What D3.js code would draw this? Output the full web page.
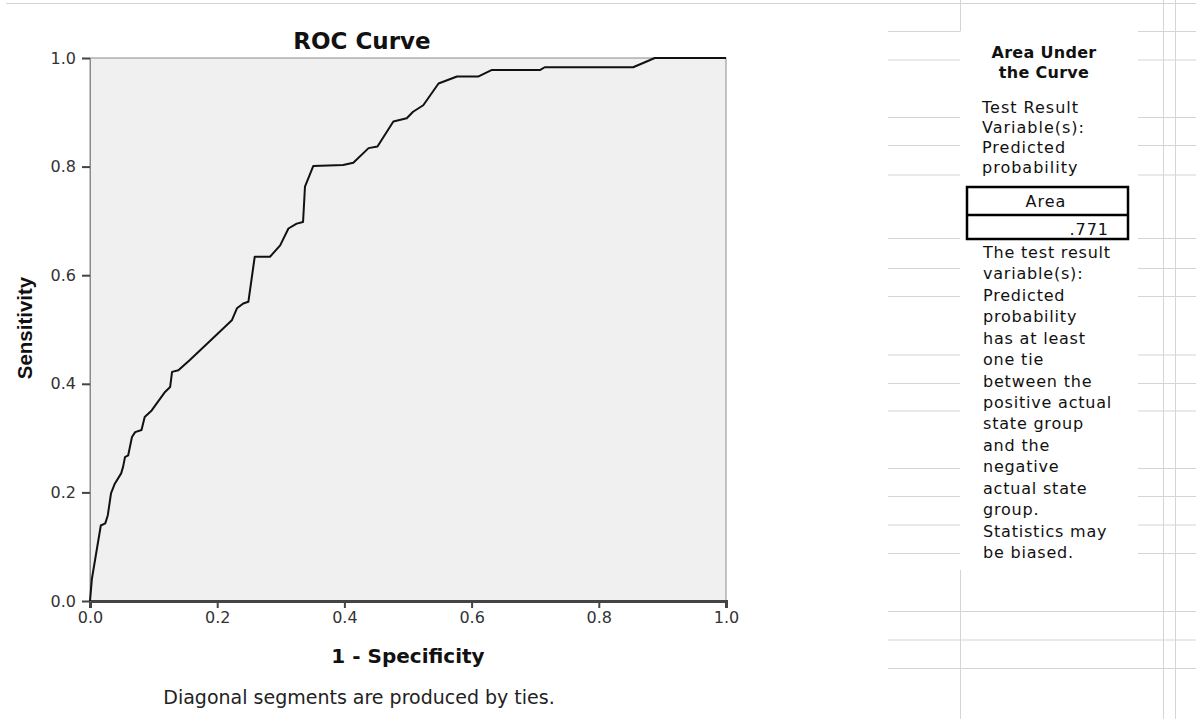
<!DOCTYPE html>
<html>
<head>
<meta charset="utf-8">
<script src="https://cdn.jsdelivr.net/npm/d3@7"></script>
<style>
  body { margin: 0; background: #fff; }
  svg { display: block; }
  .tick text { font-family: "DejaVu Sans", sans-serif; font-size: 16px; fill: #333; }
</style>
</head>
<body>
<script>
// ROC points (1 - specificity, sensitivity)
const fpr = [0.000, 0.003, 0.017, 0.024, 0.028, 0.033, 0.039, 0.049, 0.052, 0.055,
             0.060, 0.066, 0.071, 0.081, 0.086, 0.097, 0.118, 0.126, 0.129, 0.139,
             0.157, 0.204, 0.223, 0.231, 0.241, 0.249, 0.259, 0.283, 0.299, 0.312,
             0.325, 0.335, 0.338, 0.351, 0.398, 0.414, 0.438, 0.452, 0.477, 0.498,
             0.508, 0.524, 0.548, 0.577, 0.611, 0.632, 0.708, 0.715, 0.854, 0.878,
             0.888, 1.000];
const tpr = [0.000, 0.041, 0.139, 0.143, 0.158, 0.198, 0.216, 0.235, 0.247, 0.265,
             0.268, 0.302, 0.311, 0.315, 0.339, 0.351, 0.385, 0.394, 0.422, 0.425,
             0.444, 0.496, 0.517, 0.539, 0.548, 0.551, 0.634, 0.634, 0.655, 0.686,
             0.695, 0.698, 0.763, 0.801, 0.803, 0.807, 0.834, 0.837, 0.883, 0.889,
             0.901, 0.913, 0.953, 0.966, 0.966, 0.978, 0.978, 0.983, 0.983, 0.995,
             1.000, 1.000];
const xTicks = [0, 0.2, 0.4, 0.6, 0.8, 1.0];
const yTicks = [0, 0.2, 0.4, 0.6, 0.8, 1.0];
const aucValue = ".771";
const tableTitle = ["Area Under", "the Curve"];
const variableLines = ["Test Result", "Variable(s):", "Predicted", "probability"];
const noteLines = ["The test result", "variable(s):", "Predicted", "probability",
                   "has at least", "one tie", "between the", "positive actual",
                   "state group", "and the", "negative", "actual state", "group.",
                   "Statistics may", "be biased."];

const W = 1196, H = 719;
const plotL = 90, plotR = 726, plotT = 58, plotB = 601;

const svg = d3.select("body").append("svg")
    .attr("width", W)
    .attr("height", H);

svg.append("rect").attr("width", W).attr("height", H).attr("fill", "#fff");

// spreadsheet lines behind the pivot table
const grid = svg.append("g").attr("stroke", "#d4d4d4").attr("stroke-width", 1);
grid.append("line").attr("x1", 6).attr("x2", W).attr("y1", 3.5).attr("y2", 3.5);
const splitRows = [31.5, 60, 117.5, 145.5, 175, 238.5, 268.5, 296.5, 355, 383.5, 411, 468.5, 496.5, 525, 553.5];
splitRows.forEach(function (y) {
    grid.append("line").attr("x1", 888).attr("x2", 960).attr("y1", y).attr("y2", y);
    grid.append("line").attr("x1", 1138).attr("x2", W).attr("y1", y).attr("y2", y);
});
[611.5, 640, 668.5].forEach(function (y) {
    grid.append("line").attr("x1", 888).attr("x2", W).attr("y1", y).attr("y2", y);
});
grid.append("line").attr("x1", 960.5).attr("x2", 960.5).attr("y1", 0).attr("y2", 31.5);
grid.append("line").attr("x1", 960.5).attr("x2", 960.5).attr("y1", 570).attr("y2", H);
grid.append("line").attr("x1", 1163.5).attr("x2", 1163.5).attr("y1", 0).attr("y2", H);
grid.append("line").attr("x1", 1175.5).attr("x2", 1175.5).attr("y1", 0).attr("y2", H);

// chart
const x = d3.scaleLinear().domain([0, 1]).range([plotL, plotR]);
const y = d3.scaleLinear().domain([0, 1]).range([plotB, plotT]);

svg.append("rect")
    .attr("x", plotL).attr("y", plotT)
    .attr("width", plotR - plotL).attr("height", plotB - plotT)
    .attr("fill", "#f0f0f0")
    .attr("stroke", "#8a8a8a")
    .attr("stroke-width", 1);

const xAxis = svg.append("g")
    .attr("transform", "translate(0," + plotB + ")")
    .call(d3.axisBottom(x).tickValues(xTicks).tickFormat(d3.format(".1f")).tickSize(7).tickPadding(4));
xAxis.select(".domain").attr("stroke", "#444").attr("stroke-width", 3);
xAxis.selectAll(".tick line").attr("stroke", "#444").attr("stroke-width", 2);

const yAxis = svg.append("g")
    .attr("transform", "translate(" + plotL + ",0)")
    .call(d3.axisLeft(y).tickValues(yTicks).tickFormat(d3.format(".1f")).tickSize(8).tickPadding(6));
yAxis.select(".domain").attr("stroke", "#8a8a8a").attr("stroke-width", 1);
yAxis.selectAll(".tick line").attr("stroke", "#444").attr("stroke-width", 2);

const line = d3.line()
    .x(function (d) { return x(d[0]); })
    .y(function (d) { return y(d[1]); });

svg.append("path")
    .datum(d3.zip(fpr, tpr))
    .attr("d", line)
    .attr("fill", "none")
    .attr("stroke", "#111")
    .attr("stroke-width", 2)
    .attr("stroke-linejoin", "round");

svg.append("text")
    .text("ROC Curve")
    .attr("x", 362).attr("y", 49)
    .attr("text-anchor", "middle")
    .attr("font-family", "DejaVu Sans")
    .attr("font-weight", "bold")
    .attr("font-size", "23px")
    .attr("fill", "#111");

svg.append("text")
    .text("1 - Specificity")
    .attr("x", (plotL + plotR) / 2).attr("y", 663)
    .attr("text-anchor", "middle")
    .attr("font-family", "DejaVu Sans")
    .attr("font-weight", "bold")
    .attr("font-size", "20px")
    .attr("fill", "#111");

svg.append("text")
    .text("Sensitivity")
    .attr("transform", "translate(32," + 328 + ") rotate(-90)")
    .attr("text-anchor", "middle")
    .attr("font-family", "Liberation Sans")
    .attr("font-weight", "bold")
    .attr("font-size", "20.5px")
    .attr("fill", "#111");

svg.append("text")
    .text("Diagonal segments are produced by ties.")
    .attr("x", 359).attr("y", 704)
    .attr("text-anchor", "middle")
    .attr("font-family", "DejaVu Sans")
    .attr("font-size", "19px")
    .attr("fill", "#222");

// pivot table panel
const panel = svg.append("g")
    .attr("font-family", "DejaVu Sans")
    .attr("fill", "#111");

panel.selectAll(".ttl")
    .data(tableTitle)
    .enter().append("text")
    .attr("class", "ttl")
    .text(function (d) { return d; })
    .attr("x", 1044)
    .attr("y", function (d, i) { return 58 + i * 20; })
    .attr("text-anchor", "middle")
    .attr("font-weight", "bold")
    .attr("font-size", "16px")
    .attr("letter-spacing", "0.3px");

panel.selectAll(".var")
    .data(variableLines)
    .enter().append("text")
    .attr("class", "var")
    .text(function (d) { return d; })
    .attr("x", 982)
    .attr("y", function (d, i) { return 113 + i * 20; })
    .attr("font-size", "16px")
    .attr("letter-spacing", "1px");

panel.append("rect")
    .attr("x", 967).attr("y", 187)
    .attr("width", 161).attr("height", 52)
    .attr("fill", "none")
    .attr("stroke", "#000")
    .attr("stroke-width", 2.5);
panel.append("line")
    .attr("x1", 967).attr("x2", 1128)
    .attr("y1", 215).attr("y2", 215)
    .attr("stroke", "#000")
    .attr("stroke-width", 2.5);

panel.append("text")
    .text("Area")
    .attr("x", 1046).attr("y", 207)
    .attr("text-anchor", "middle")
    .attr("font-size", "16px")
    .attr("letter-spacing", "1px");
panel.append("text")
    .text(aucValue)
    .attr("x", 1109).attr("y", 235)
    .attr("text-anchor", "end")
    .attr("font-size", "16px")
    .attr("letter-spacing", "1px");

panel.selectAll(".note")
    .data(noteLines)
    .enter().append("text")
    .attr("class", "note")
    .text(function (d) { return d; })
    .attr("x", 983)
    .attr("y", function (d, i) { return 258 + i * 21.43; })
    .attr("font-size", "16px")
    .attr("letter-spacing", "0.8px");
</script>
</body>
</html>
